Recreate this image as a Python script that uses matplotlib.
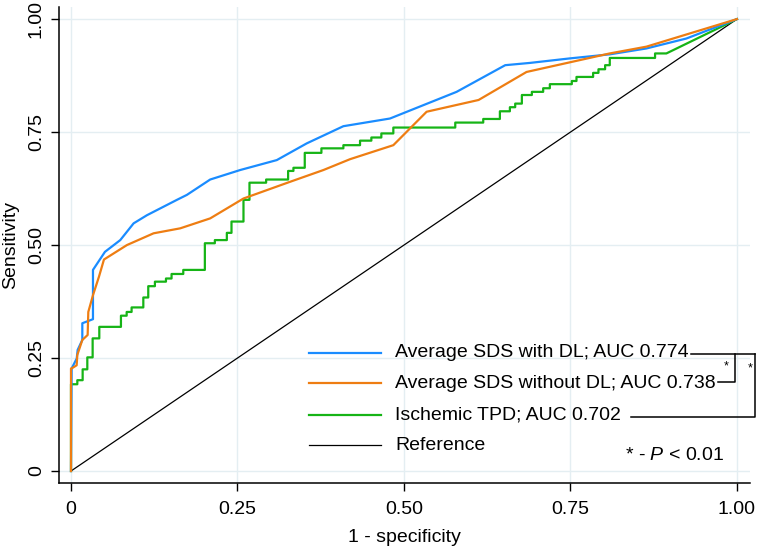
# Curvas ROC: SDS promedio con/sin DL e isquemia TPD
import numpy as np
import matplotlib
matplotlib.use('Agg')
import matplotlib.pyplot as plt

plt.rcParams['font.family'] = ['Liberation Sans', 'DejaVu Sans']
plt.rcParams['mathtext.fontset'] = 'custom'
plt.rcParams['mathtext.rm'] = 'Liberation Sans'
plt.rcParams['mathtext.it'] = 'Liberation Sans:italic'

# Datos
sds_dl_fpr = [0, 0.001, 0.0086, 0.010, 0.017, 0.017, 0.033, 0.033, 0.051, 0.074, 0.094,
              0.114, 0.159, 0.174, 0.209, 0.254, 0.309, 0.354, 0.409, 0.479, 0.579,
              0.652, 0.689, 0.749, 0.809, 0.864, 0.924, 1.0]
sds_dl_tpr = [0, 0.227, 0.249, 0.268, 0.29, 0.327, 0.336, 0.445, 0.485, 0.511, 0.548,
              0.566, 0.600, 0.611, 0.645, 0.666, 0.688, 0.725, 0.763, 0.780, 0.839,
              0.898, 0.903, 0.913, 0.922, 0.935, 0.957, 1.0]

sds_fpr = [0, 0, 0.001, 0.0085, 0.0095, 0.017, 0.025, 0.026, 0.033, 0.042, 0.0495,
           0.084, 0.124, 0.164, 0.209, 0.259, 0.329, 0.379, 0.419, 0.484, 0.534,
           0.612, 0.684, 0.809, 0.864, 1.0]
sds_tpr = [0, 0.227, 0.227, 0.234, 0.257, 0.29, 0.301, 0.352, 0.389, 0.430, 0.468,
           0.5, 0.526, 0.537, 0.559, 0.603, 0.640, 0.666, 0.690, 0.721, 0.795,
           0.821, 0.883, 0.924, 0.939, 1.0]

# TPD en escalones (x, y despues de cada salto)
tpd_fpr = [0, 0, 0.0095, 0.0175, 0.0245, 0.0325, 0.0425, 0.075, 0.0836, 0.091, 0.1086,
           0.116, 0.126, 0.1426, 0.151, 0.1686, 0.201, 0.216, 0.234, 0.241, 0.259,
           0.268, 0.293, 0.326, 0.334, 0.351, 0.376, 0.409, 0.434, 0.451, 0.466,
           0.484, 0.577, 0.619, 0.644, 0.659, 0.667, 0.677, 0.692, 0.709, 0.719,
           0.752, 0.759, 0.784, 0.792, 0.802, 0.809, 0.877, 0.894]
tpd_tpr = [0, 0.192, 0.201, 0.225, 0.2515, 0.2935, 0.319, 0.3437, 0.352, 0.362, 0.384,
           0.409, 0.419, 0.426, 0.436, 0.445, 0.504, 0.511, 0.527, 0.552, 0.600,
           0.638, 0.645, 0.664, 0.671, 0.704, 0.714, 0.721, 0.731, 0.738, 0.747,
           0.760, 0.771, 0.779, 0.796, 0.805, 0.813, 0.832, 0.839, 0.847, 0.856,
           0.863, 0.872, 0.881, 0.889, 0.898, 0.914, 0.924, 0.924]
tpd_end = (1.0, 1.0)

labels = ['Average SDS with DL; AUC 0.774', 'Average SDS without DL; AUC 0.738',
          'Ischemic TPD; AUC 0.702', 'Reference']
colors = ['#1a8cff', '#ee7d12', '#16b416', 'black']
ticks = [0, 0.25, 0.5, 0.75, 1.0]
tick_labels = ['0', '0.25', '0.50', '0.75', '1.00']

# construir escalones del TPD
sx, sy = [tpd_fpr[0]], [tpd_tpr[0]]
for i in range(1, len(tpd_fpr)):
    sx += [tpd_fpr[i], tpd_fpr[i]]
    sy += [tpd_tpr[i - 1], tpd_tpr[i]]
sx.append(tpd_end[0])
sy.append(tpd_end[1])

fig = plt.figure(figsize=(7.6, 5.47), dpi=100)
ax = fig.add_axes([0.0772, 0.117, 0.9096, 0.870])

ax.plot([0, 1], [0, 1], color=colors[3], lw=0.9, zorder=2)
ax.plot(sx, sy, color=colors[2], lw=1.6, zorder=3)
ax.plot(sds_fpr, sds_tpr, color=colors[1], lw=1.6, zorder=5)
ax.plot(sds_dl_fpr, sds_dl_tpr, color=colors[0], lw=1.6, zorder=4)

ax.set_xlim(-0.0185, 1.0195)
ax.set_ylim(-0.0265, 1.0265)
ax.set_xticks(ticks)
ax.set_xticklabels(tick_labels, fontsize=14)
ax.set_yticks(ticks)
ax.set_yticklabels(tick_labels, fontsize=14, rotation=90, va='center')
ax.tick_params(axis='both', length=6, width=1, pad=4)
ax.tick_params(axis='x', pad=7)
ax.grid(True, color='#e4eef2', lw=1)
ax.set_axisbelow(True)
for s in ['top', 'right']:
    ax.spines[s].set_visible(False)
for s in ['left', 'bottom']:
    ax.spines[s].set_linewidth(1.1)

ax.set_xlabel('1 - specificity', fontsize=14, labelpad=8)
ax.set_ylabel('Sensitivity', fontsize=14, labelpad=6)

# leyenda manual
rows = [0.2617, 0.194, 0.124, 0.0575]
texts = []
for lab, col, yy in zip(labels, colors, rows):
    ax.plot([0.357, 0.4655], [yy, yy], color=col, lw=1.6 if col != 'black' else 0.9,
            clip_on=False)
    texts.append(ax.text(0.4865, yy, lab, fontsize=14, va='center', ha='left'))

ax.text(0.832, 0.0354, '* - $P$ < 0.01', fontsize=14, va='center', ha='left')

# corchetes de significancia
fig.canvas.draw()
r = fig.canvas.get_renderer()
inv = ax.transData.inverted()
ends = [inv.transform((t.get_window_extent(r).x1, 0))[0] for t in texts[:3]]
yb = [0.259, 0.1976, 0.1188]
xin, xout = 0.997, 1.027
ax.plot([ends[0] + 0.003, xout], [yb[0], yb[0]], color='black', lw=1.1, clip_on=False)
ax.plot([xin, xin, ends[1] + 0.004], [yb[0], yb[1], yb[1]], color='black', lw=1.1,
        clip_on=False)
ax.plot([xout, xout, ends[2] + 0.015], [yb[0], yb[2], yb[2]], color='black', lw=1.1,
        clip_on=False)
ax.text(0.9845, 0.2307, '*', fontsize=9, ha='center', va='center')
ax.text(1.0195, 0.2272, '*', fontsize=9, ha='center', va='center')

plt.savefig('out.png', dpi=100)
